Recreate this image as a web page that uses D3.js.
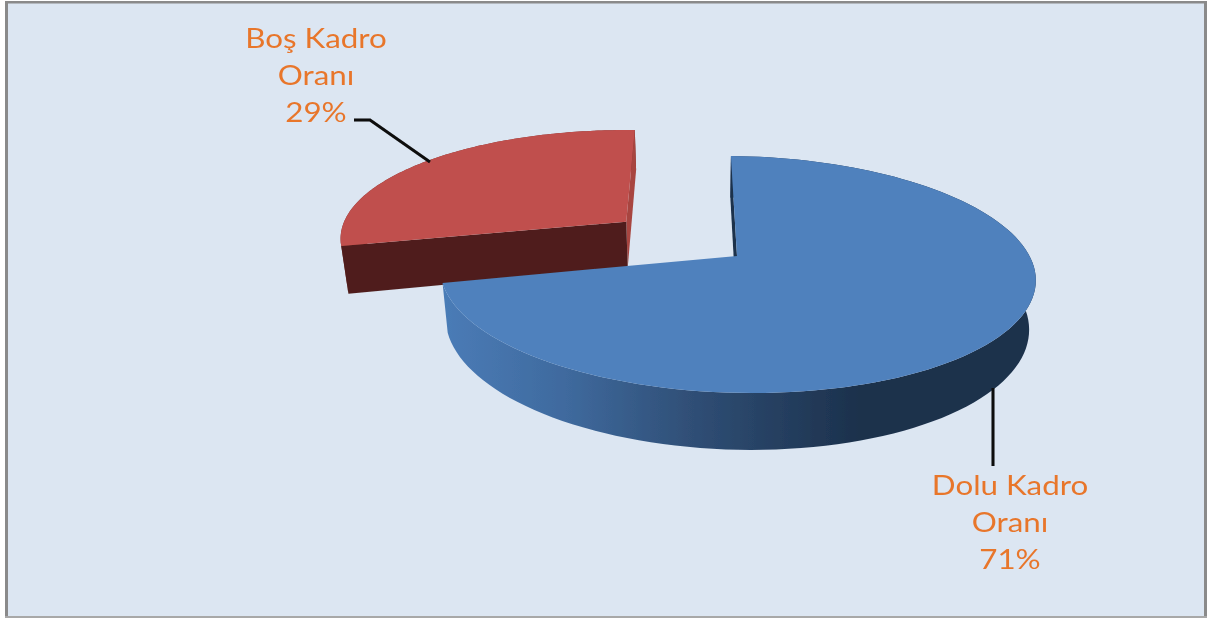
<!DOCTYPE html>
<html><head><meta charset="utf-8">
<script src="https://cdnjs.cloudflare.com/ajax/libs/d3/7.8.5/d3.min.js"></script>
<style>html,body{margin:0;padding:0;background:#fff}svg{display:block}</style>
</head><body><div id="chart"></div>
<script>
const categories = ["Dolu Kadro Oranı", "Boş Kadro Oranı"];
const values = [71, 29];
const labelLines = [["Dolu Kadro", "Oranı", "71%"], ["Boş Kadro", "Oranı", "29%"]];

const W = 1207, H = 619;
const svg = d3.select("#chart").append("svg").attr("width", W).attr("height", H);

// Frame
svg.append("rect").attr("x", 8).attr("y", 3).attr("width", 1196).attr("height", 613).attr("fill", "#dce6f2");
[[5, 1, 1202, 2.5, "#8a8a8a"], [5, 1, 3, 617, "#8a8a8a"], [1204, 1, 3, 617, "#8a8a8a"], [5, 616, 1202, 2, "#a8a8a8"]]
  .forEach(([x, y, w, h, c]) => svg.append("rect").attr("x", x).attr("y", y).attr("width", w).attr("height", h).attr("fill", c));

const defs = svg.append("defs");
defs.append("filter").attr("id", "soft").attr("x", "-5%").attr("y", "-5%").attr("width", "110%").attr("height", "110%")
  .append("feGaussianBlur").attr("stdDeviation", 0.45);
const grad = defs.append("linearGradient").attr("id", "wallBlue")
  .attr("gradientUnits", "userSpaceOnUse").attr("x1", 447).attr("x2", 1036).attr("y1", 0).attr("y2", 0);
[[0, "#4a7bb6"], [0.2, "#3f6a9e"], [0.42, "#2f4e75"], [0.7, "#1c314c"], [1, "#1c314c"]]
  .forEach(([o, c]) => grad.append("stop").attr("offset", o).attr("stop-color", c));

// Tilted-disc projection
const cx = 737, cy = 256, Rx = 294, Ry = 115.6, persp = 0.156, skew = 7, tilt = 3, depth = 48;
function project(u, v, z) {
  const s = 1 / (1 - persp * v);
  const conv = 1 - 0.02 * z;
  const x0 = cx + (Rx * u + skew * v) * s;
  return [700 + (x0 - 700) * conv, cy + (Ry * v + tilt * u) * s + depth * s * z];
}
const pie = d3.pie().sort(null).startAngle(0).endAngle(2 * Math.PI)(values);
const explode = [0, 0.49];
const line = d3.line();

function rim(d, offset, z) {
  const mid = (d.startAngle + d.endAngle) / 2;
  const ox = Math.sin(mid) * offset, oy = -Math.cos(mid) * offset;
  const n = 120;
  return d3.range(n + 1).map(i => {
    const a = d.startAngle + (d.endAngle - d.startAngle) * i / n;
    return project(ox + Math.sin(a), oy - Math.cos(a), z);
  });
}
function apex(d, offset, z) {
  const mid = (d.startAngle + d.endAngle) / 2;
  return project(Math.sin(mid) * offset, -Math.cos(mid) * offset, z);
}

const chart = svg.append("g").attr("filter", "url(#soft)");
const styles = [
  { top: "#4f81bd", wall: "url(#wallBlue)", startCut: "#1c314c", endCut: null },
  { top: "#c0504d", wall: "#7a2f2d", startCut: "#4f1f1d", endCut: "#a8453f" }
];

// Draw the exploded slice first so the main slice overlaps it
[1, 0].forEach(i => {
  const d = pie[i], off = explode[i], st = styles[i];
  const g = chart.append("g");
  const t = rim(d, off, 0), b = rim(d, off, 1);
  const at = apex(d, off, 0), ab = apex(d, off, 1);
  const last = t.length - 1;
  g.append("path").attr("d", line(t.concat(b.slice().reverse())) + "Z").attr("fill", st.wall);
  if (st.endCut) g.append("path").attr("d", line([t[last], at, ab, b[last]]) + "Z").attr("fill", st.endCut);
  g.append("path").attr("d", line([t[0], at, ab, b[0]]) + "Z").attr("fill", st.startCut);
  g.append("path").attr("d", line([at].concat(t)) + "Z").attr("fill", st.top);
});

// Leader lines
const leaders = [[[993, 388], [993, 466]], [[354, 120], [370, 120], [430, 162]]];
leaders.forEach(l => chart.append("path").attr("d", line(l)).attr("fill", "none")
  .attr("stroke", "#0a0a0a").attr("stroke-width", 3));

// Labels (the reference text is stretched horizontally)
const labelX = [1010, 316], labelY = [495, 48], lineStep = 37;
labelLines.forEach((lines, i) => {
  const t = chart.append("text").attr("text-anchor", "middle")
    .attr("transform", `translate(${labelX[i]},0) scale(1.16,1)`)
    .attr("font-family", "Lato, Carlito, sans-serif").attr("font-size", 27).attr("fill", "#e8762c");
  lines.forEach((s, j) => t.append("tspan").attr("x", 0).attr("y", labelY[i] + j * lineStep).text(s));
});
</script></body></html>
